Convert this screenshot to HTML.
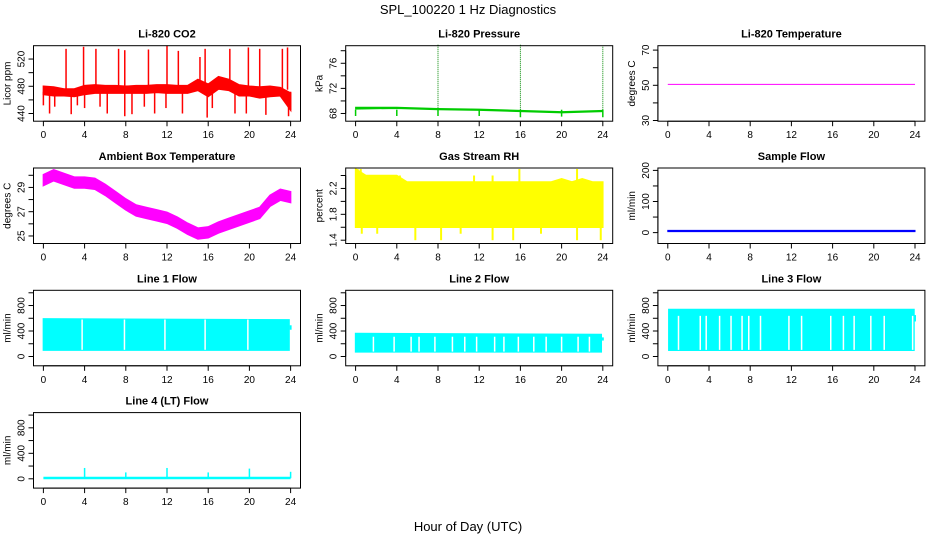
<!DOCTYPE html>
<html><head><meta charset="utf-8"><style>
body{margin:0;background:#fff}
svg{display:block;font-family:"Liberation Sans",Arial,sans-serif}
</style></head><body>
<svg id="chart" width="936" height="540" viewBox="0 0 936 540">
<rect width="936" height="540" fill="#fff"/>
<text x="468" y="14" font-size="13" text-anchor="middle">SPL_100220  1 Hz Diagnostics</text>
<text x="468" y="531" font-size="13" text-anchor="middle">Hour of Day (UTC)</text>
</svg>
<script>
const xTicks=[0,4,8,12,16,20,24];
const hours=[0,1,2,3,4,5,6,7,8,9,10,11,12,13,14,15,16,17,18,19,20,21,22,23,24];
// CO2
const co2High=[480,479,476,476,481,482,481,481,480,481,481,482,482,481,481,490,483,494,490,482,480,479,480,478,470];
const co2Low=[468,466,466,465,468,470,470,470,470,470,470,471,470,470,470,474,465,476,474,466,466,463,465,466,445];
const co2SpikeT=[2.2,3.9,5.1,7.3,7.9,10.2,12.0,13.1,15.2,15.7,18.1,19.9,21.0,23.2,23.7];
const co2SpikeV=[535,538,535,535,533,534,540,532,523,535,535,537,535,535,537];
const co2DipT=[0.0,0.6,1.1,2.7,3.3,4.0,5.5,6.2,7.9,8.6,9.8,10.8,11.9,13.5,15.9,16.4,18.6,19.7,21.6,23.8,24.0];
const co2DipV=[452,440,450,439,452,448,450,440,436,439,450,440,448,440,434,448,440,440,438,436,445];
// Pressure
const presT=[0,4,8,12,16,20,24];
const presHigh=[69.0,69.0,68.8,68.7,68.5,68.3,68.5];
const presLow=[68.7,68.8,68.6,68.5,68.3,68.1,68.3];
const presDipV=[67.6,67.6,67.6,67.6,67.4,67.5,67.4];
const presMarkT=[8,16,24];
const presMarkV=[79,79,78.8];
// Li-820 temperature
const tempT=[0,24];
const tempV=[50.5,50.5];
// Ambient box temperature
const ambCenter=[29.6,30.0,29.7,29.4,29.4,29.3,28.8,28.2,27.6,27.1,26.9,26.7,26.5,26.1,25.6,25.2,25.3,25.7,26.0,26.3,26.6,26.9,27.9,28.4,28.2];
const ambSpread=[0.45,0.45,0.45,0.45,0.45,0.45,0.45,0.45,0.45,0.45,0.45,0.45,0.45,0.45,0.45,0.45,0.45,0.45,0.45,0.45,0.45,0.45,0.45,0.45,0.45];
// Gas stream RH
const rhHigh=[2.5,2.4,2.4,2.4,2.4,2.3,2.3,2.3,2.3,2.3,2.3,2.3,2.3,2.3,2.3,2.3,2.3,2.3,2.3,2.3,2.35,2.3,2.35,2.3,2.3];
const rhLow=[1.6,1.6,1.6,1.6,1.6,1.6,1.6,1.6,1.6,1.6,1.6,1.6,1.6,1.6,1.6,1.6,1.6,1.6,1.6,1.6,1.6,1.6,1.6,1.6,1.6];
const rhSpikeT=[0.2,0.5,1.8,3.5,4.3,11.5,13.3,15.9,21.5];
const rhSpikeV=[2.5,2.5,2.4,2.4,2.4,2.4,2.4,2.5,2.5];
const rhDipT=[0.6,2.1,5.8,8.3,10.2,13.3,15.3,18.0,21.5,23.8];
const rhDipV=[1.5,1.5,1.4,1.4,1.5,1.4,1.4,1.5,1.4,1.4];
// Sample flow
const sfT=[0,24];
const sfHigh=[7,7];
const sfLow=[3,3];
// Line flows
const l1T=[0,23.85];const l1High=[590,575];const l1Low=[100,100];
const l1Gaps=[3.76,7.87,11.8,15.7,19.85];
const l2T=[0,23.85];const l2High=[360,345];const l2Low=[72,72];
const l2Gaps=[1.73,3.74,5.39,6.16,7.7,9.4,10.6,11.75,13.5,14.4,15.8,17.3,18.5,20.0,21.6,22.7];
const l3T=[0.1,23.9];const l3High=[738,738];const l3Low=[99,99];
const l3Gaps=[1.04,3.15,3.73,5.03,6.14,7.21,7.86,9.0,11.76,12.99,15.82,17.05,18.09,19.71,21.01,23.77];
const l4T=[0,24];const l4V=[12,12];
const l4SpikeT=[4,8,12,16,20,24];
const l4SpikeV=[170,100,170,100,160,110];

const NS='http://www.w3.org/2000/svg';
const svg=document.getElementById('chart');
function mk(tag,attrs,parent){const e=document.createElementNS(NS,tag);for(const k in attrs)e.setAttribute(k,attrs[k]);(parent||svg).appendChild(e);return e;}

function panel(col,row,o){
  const bx=33.5+col*312.2, by=45.7+row*122.3, bw=267, bh=75.5;
  const g=mk('g',{});
  
  
  const X=t=>bx+(t+0.96)/25.92*bw;
  const Y=v=>by+bh-(v-o.ylim[0])/(o.ylim[1]-o.ylim[0])*bh;
  const ctx={g,X,Y};
  o.draw(ctx);
  const box=mk('rect',{x:bx,y:by,width:bw,height:bh,fill:'none',stroke:'#000','stroke-width':1},g);
  
  
  const ti=mk('text',{x:bx+bw/2,y:by-8,'font-size':11,'font-weight':'bold','text-anchor':'middle'},g);
  
  
  ti.textContent=o.title;
  mk('line',{x1:X(0),x2:X(24),y1:by+bh,y2:by+bh,stroke:'#000'},g);
  xTicks.forEach(t=>{
    mk('line',{x1:X(t),x2:X(t),y1:by+bh,y2:by+bh+5,stroke:'#000'},g);
    const tl=mk('text',{x:X(t),y:by+bh+17,'font-size':10,'text-anchor':'middle'},g);
    
    
    tl.textContent=t;
  });
  const yt=o.yticks;
  mk('line',{x1:bx,x2:bx,y1:Y(yt[0]),y2:Y(yt[yt.length-1]),stroke:'#000'},g);
  yt.forEach((v,i)=>{
    mk('line',{x1:bx-5,x2:bx,y1:Y(v),y2:Y(v),stroke:'#000'},g);
    if(o.ylabels[i]!==''){
      const tl=mk('text',{x:0,y:0,'font-size':10,'text-anchor':'middle',transform:`translate(${bx-9},${Y(v)}) rotate(-90)`},g);
      
      
      tl.textContent=o.ylabels[i];
    }
  });
  const yl=mk('text',{x:0,y:0,'font-size':10,'text-anchor':'middle',transform:`translate(${bx-23},${by+bh/2}) rotate(-90)`},g);
  
  
  yl.textContent=o.ylab;
}
function band(c,ts,hi,lo,color,name,sw){
  let d='M'+ts.map((t,i)=>c.X(t)+','+c.Y(hi[i])).join('L');
  d+='L'+ts.map((t,i)=>c.X(t)+','+c.Y(lo[i])).reverse().join('L')+'Z';
  const p=mk('path',{d,fill:color,stroke:color,'stroke-width':sw||1.5},c.g);
  
  
}
function vlines(c,ts,from,to,color,w,name,dash){
  ts.forEach((t,i)=>{
    const a=Array.isArray(from)?from[i]:from, b=Array.isArray(to)?to[i]:to;
    const l=mk('line',{x1:c.X(t),x2:c.X(t),y1:c.Y(a),y2:c.Y(b),stroke:color,'stroke-width':w},c.g);
    if(dash)l.setAttribute('stroke-dasharray',dash);
    
    
  });
}
function line(c,ts,vs,color,w,name){
  const p=mk('path',{d:'M'+ts.map((t,i)=>c.X(t)+','+c.Y(vs[i])).join('L'),fill:'none',stroke:color,'stroke-width':w},c.g);
  
  
}
const flowTicks=[0,200,400,600,800,1000], flowLabels=['0','','400','','800',''];

panel(0,0,{name:'co2-panel',title:'Li-820 CO2',ylab:'Licor ppm',ylim:[428.7,539.6],yticks:[440,460,480,500,520],ylabels:['440','','480','','520'],
 draw:c=>{band(c,hours,co2High,co2Low,'#ff0000','co2-series');
  vlines(c,co2SpikeT,475,co2SpikeV,'#ff0000',1.5,'co2-spike');
  vlines(c,co2DipT,472,co2DipV,'#ff0000',1.5,'co2-dip');}});
panel(1,0,{name:'pressure-panel',title:'Li-820 Pressure',ylab:'kPa',ylim:[66.77,78.8],yticks:[68,70,72,74,76,78],ylabels:['68','','72','','76',''],
 draw:c=>{vlines(c,presMarkT,68.6,presMarkV,'#008800',1,'pressure-spike','1,1');
  band(c,presT,presHigh,presLow,'#00cc00','pressure-series',1);
  vlines(c,presT,68.6,presDipV,'#00cc00',1.5,'pressure-dip');}});
panel(2,0,{name:'li820-temperature-panel',title:'Li-820 Temperature',ylab:'degrees C',ylim:[29.6,72.5],yticks:[30,40,50,60,70],ylabels:['30','','50','','70'],
 draw:c=>{line(c,tempT,tempV,'#ff00ff',1,'temperature-series');}});
panel(0,1,{name:'ambient-temperature-panel',title:'Ambient Box Temperature',ylab:'degrees C',ylim:[24.38,30.6],yticks:[25,26,27,28,29,30],ylabels:['25','','27','','29',''],
 draw:c=>{band(c,hours,ambCenter.map((v,i)=>v+ambSpread[i]),ambCenter.map((v,i)=>v-ambSpread[i]),'#ff00ff','ambient-series');}});
panel(1,1,{name:'rh-panel',title:'Gas Stream RH',ylab:'percent',ylim:[1.349,2.516],yticks:[1.4,1.6,1.8,2.0,2.2,2.4],ylabels:['1.4','','1.8','','2.2',''],
 draw:c=>{band(c,hours,rhHigh,rhLow,'#ffff00','rh-series');
  vlines(c,rhSpikeT,2.2,rhSpikeV,'#ffff00',2,'rh-spike');
  vlines(c,rhDipT,1.8,rhDipV,'#ffff00',2,'rh-dip');}});
panel(2,1,{name:'sample-flow-panel',title:'Sample Flow',ylab:'ml/min',ylim:[-35,207.7],yticks:[0,50,100,150,200],ylabels:['0','','100','','200'],
 draw:c=>{band(c,sfT,sfHigh,sfLow,'#0000ff','sample-flow-series',1);}});
panel(0,2,{name:'line1-flow-panel',title:'Line 1 Flow',ylab:'ml/min',ylim:[-146,1039],yticks:flowTicks,ylabels:flowLabels,
 draw:c=>{band(c,l1T,l1High,l1Low,'#00ffff','line1-series');vlines(c,l1Gaps,l1Low[0]+5,l1High[0]-10,'#ffffff',1.5,'line1-gap');vlines(c,[24],420,490,'#00ffff',2,'line1-end');}});
panel(1,2,{name:'line2-flow-panel',title:'Line 2 Flow',ylab:'ml/min',ylim:[-146,1039],yticks:flowTicks,ylabels:flowLabels,
 draw:c=>{band(c,l2T,l2High,l2Low,'#00ffff','line2-series');vlines(c,l2Gaps,l2Low[0]+5,l2High[0]-50,'#ffffff',1.5,'line2-gap');vlines(c,[24],250,300,'#00ffff',2,'line2-end');}});
panel(2,2,{name:'line3-flow-panel',title:'Line 3 Flow',ylab:'ml/min',ylim:[-146,1039],yticks:flowTicks,ylabels:flowLabels,
 draw:c=>{band(c,l3T,l3High,l3Low,'#00ffff','line3-series');vlines(c,l3Gaps,l3Low[0]+5,l3High[0]-100,'#ffffff',1.5,'line3-gap');vlines(c,[24],550,650,'#00ffff',2,'line3-end');}});
panel(0,3,{name:'line4-flow-panel',title:'Line 4 (LT) Flow',ylab:'ml/min',ylim:[-146,1039],yticks:flowTicks,ylabels:flowLabels,
 draw:c=>{line(c,l4T,l4V,'#00ffff',2.5,'line4-series');vlines(c,l4SpikeT,10,l4SpikeV,'#00ffff',1.5,'line4-spike');}});
</script>
</body></html>
